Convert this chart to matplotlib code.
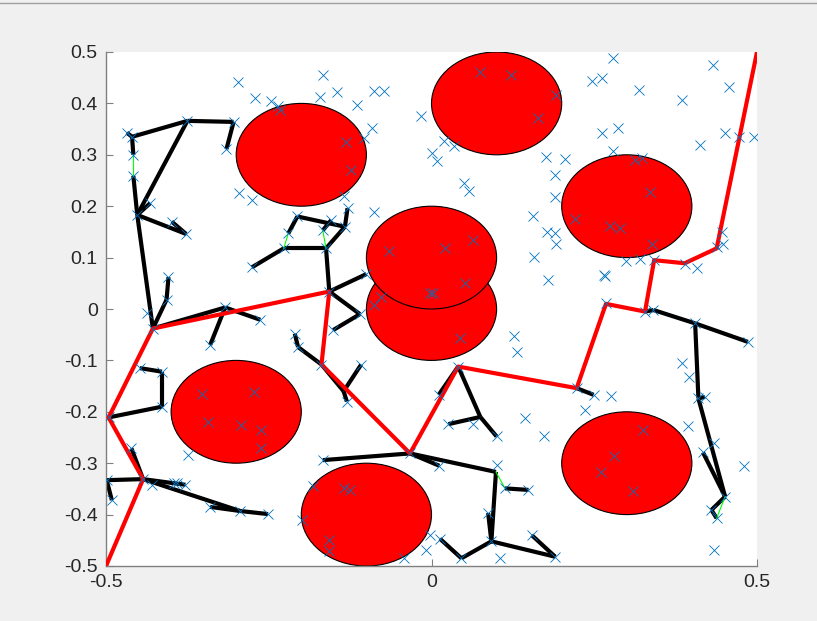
import matplotlib
matplotlib.use("Agg")
import matplotlib.pyplot as plt
from matplotlib.patches import Circle
from matplotlib.lines import Line2D

plt.rcParams['font.family'] = ['Liberation Sans', 'DejaVu Sans']

# ---------------- data ----------------
# circular obstacles (centre x, centre y), common radius
obs_x = [-0.2, 0.1, 0.3, 0.0, 0.0, -0.3, -0.1, 0.3]
obs_y = [0.3, 0.4, 0.2, 0.0, 0.1, -0.2, -0.4, -0.3]
obs_r = 0.1

# sampled points (blue crosses)
pts_x = [-0.297, -0.271, -0.247, -0.236, -0.233, -0.166, -0.171, -0.468, -0.460, -0.375,
         -0.304, -0.315, -0.458, -0.458, -0.295, -0.275, -0.432, -0.452, -0.399, -0.377,
         -0.206, -0.220, -0.227, -0.167, -0.162, -0.154, -0.276, -0.404, -0.407, -0.437,
         -0.317, -0.428, -0.145, -0.089, -0.073, -0.114, -0.091, -0.103, -0.131, -0.124,
         -0.135, -0.129, -0.089, -0.133, -0.016, 0.019, 0.035, 0.001, 0.008, 0.050,
         0.057, 0.075, 0.122, 0.164, 0.176, 0.156, 0.177, 0.158, 0.179, -0.065,
         0.021, 0.063, 0.051, -0.002, 0.003, -0.078, -0.089, -0.100, -0.157, 0.279,
         0.246, 0.262, 0.318, 0.433, 0.457, 0.385, 0.191, 0.262, 0.287, 0.412,
         0.451, 0.473, 0.495, 0.279, 0.312, 0.324, 0.205, 0.190, 0.190, 0.336,
         0.220, 0.274, 0.289, 0.189, 0.191, 0.338, 0.446, 0.448, 0.438, 0.299,
         0.320, 0.342, 0.389, 0.408, 0.265, 0.266, 0.268, 0.341, 0.328, -0.110,
         -0.151, -0.169, -0.210, -0.205, -0.108, -0.130, 0.044, 0.126, 0.131, 0.041,
         0.011, 0.026, 0.064, 0.100, 0.143, 0.173, -0.033, -0.167, 0.012, 0.100,
         0.113, 0.149, 0.087, 0.092, 0.046, 0.013, 0.190, 0.154, -0.003, -0.008,
         0.105, -0.042, -0.157, -0.157, -0.135, -0.125, -0.182, -0.199, -0.263, -0.340,
         -0.448, -0.414, -0.414, -0.496, -0.461, -0.443, -0.499, -0.491, -0.430, -0.396,
         -0.391, -0.378, -0.340, -0.294, -0.251, -0.374, -0.352, -0.273, -0.344, -0.292,
         -0.262, -0.262, 0.223, 0.249, 0.405, 0.486, 0.410, 0.420, 0.451, 0.417,
         0.430, 0.438, 0.385, 0.396, 0.394, 0.434, 0.480, 0.434, 0.276, 0.236,
         0.325, 0.280, 0.260, 0.310]
pts_y = [0.442, 0.410, 0.405, 0.395, 0.388, 0.455, 0.413, 0.343, 0.335, 0.366,
         0.364, 0.311, 0.300, 0.259, 0.225, 0.213, 0.206, 0.183, 0.170, 0.146,
         0.180, 0.147, 0.118, 0.153, 0.118, 0.173, 0.081, 0.062, 0.018, -0.007,
         0.003, -0.038, 0.423, 0.425, 0.425, 0.396, 0.353, 0.332, 0.324, 0.270,
         0.220, 0.196, 0.189, 0.160, 0.375, 0.327, 0.317, 0.303, 0.287, 0.245,
         0.230, 0.461, 0.455, 0.371, 0.295, 0.181, 0.150, 0.101, 0.056, 0.113,
         0.118, 0.134, 0.050, 0.031, 0.031, 0.023, 0.008, 0.068, 0.034, 0.488,
         0.444, 0.449, 0.427, 0.475, 0.431, 0.407, 0.416, 0.342, 0.353, 0.320,
         0.343, 0.334, 0.334, 0.307, 0.289, 0.293, 0.291, 0.261, 0.217, 0.227,
         0.175, 0.161, 0.157, 0.147, 0.126, 0.126, 0.150, 0.126, 0.121, 0.094,
         0.097, 0.095, 0.088, 0.079, 0.066, 0.064, 0.011, -0.002, -0.005, -0.010,
         -0.041, -0.108, -0.048, -0.074, -0.108, -0.180, -0.057, -0.053, -0.084, -0.112,
         -0.167, -0.224, -0.224, -0.248, -0.213, -0.248, -0.281, -0.294, -0.305, -0.304,
         -0.349, -0.352, -0.397, -0.452, -0.485, -0.447, -0.482, -0.440, -0.440, -0.468,
         -0.485, -0.485, -0.449, -0.470, -0.349, -0.352, -0.344, -0.411, -0.021, -0.070,
         -0.115, -0.122, -0.190, -0.211, -0.271, -0.331, -0.333, -0.372, -0.342, -0.338,
         -0.338, -0.342, -0.385, -0.393, -0.399, -0.284, -0.166, -0.161, -0.220, -0.226,
         -0.235, -0.270, -0.154, -0.167, -0.028, -0.064, -0.174, -0.171, -0.365, -0.279,
         -0.391, -0.407, -0.106, -0.132, -0.227, -0.260, -0.305, -0.469, -0.169, -0.196,
         -0.235, -0.286, -0.318, -0.354]

# tree edges (x1, y1, x2, y2)
tree_edges = [
    (-0.468, 0.343, -0.460, 0.335), (-0.460, 0.335, -0.375, 0.366), (-0.460, 0.335, -0.458, 0.300),
    (-0.375, 0.366, -0.304, 0.364), (-0.304, 0.364, -0.315, 0.311), (-0.375, 0.366, -0.452, 0.183),
    (-0.458, 0.259, -0.452, 0.183), (-0.452, 0.183, -0.432, 0.206), (-0.452, 0.183, -0.377, 0.146),
    (-0.399, 0.170, -0.377, 0.146), (-0.452, 0.183, -0.428, -0.038), (-0.404, 0.062, -0.407, 0.018),
    (-0.407, 0.018, -0.428, -0.038),
    (-0.206, 0.180, -0.220, 0.147), (-0.206, 0.180, -0.133, 0.160), (-0.133, 0.160, -0.129, 0.196),
    (-0.154, 0.173, -0.167, 0.153), (-0.133, 0.160, -0.162, 0.118), (-0.227, 0.118, -0.162, 0.118),
    (-0.227, 0.118, -0.276, 0.081), (-0.162, 0.118, -0.157, 0.034), (-0.157, 0.034, -0.100, 0.068),
    (-0.157, 0.034, -0.110, -0.010), (-0.110, -0.010, -0.151, -0.041),
    (-0.428, -0.038, -0.317, 0.003), (-0.317, 0.003, -0.263, -0.021), (-0.317, 0.003, -0.340, -0.070),
    (-0.448, -0.115, -0.414, -0.122), (-0.414, -0.122, -0.414, -0.190), (-0.414, -0.190, -0.496, -0.211),
    (-0.461, -0.271, -0.443, -0.331), (-0.443, -0.331, -0.499, -0.333), (-0.499, -0.333, -0.491, -0.372),
    (-0.443, -0.331, -0.378, -0.342), (-0.443, -0.331, -0.294, -0.393), (-0.340, -0.385, -0.294, -0.393),
    (-0.294, -0.393, -0.251, -0.399),
    (-0.210, -0.048, -0.205, -0.074), (-0.205, -0.074, -0.169, -0.108), (-0.169, -0.108, -0.135, -0.160),
    (-0.135, -0.160, -0.130, -0.180), (-0.108, -0.108, -0.135, -0.160),
    (0.041, -0.112, 0.011, -0.167), (0.041, -0.112, 0.075, -0.210), (0.075, -0.210, 0.026, -0.224),
    (0.075, -0.210, 0.100, -0.248),
    (-0.033, -0.281, -0.167, -0.294), (-0.033, -0.281, 0.012, -0.305), (-0.033, -0.281, 0.099, -0.317),
    (0.113, -0.349, 0.149, -0.352), (0.099, -0.317, 0.092, -0.452), (0.087, -0.397, 0.092, -0.452),
    (0.092, -0.452, 0.046, -0.485), (0.046, -0.485, 0.013, -0.447), (0.092, -0.452, 0.190, -0.482),
    (0.190, -0.482, 0.154, -0.440),
    (0.328, -0.005, 0.341, -0.002), (0.341, -0.002, 0.405, -0.028), (0.405, -0.028, 0.486, -0.064),
    (0.405, -0.028, 0.410, -0.174), (0.410, -0.174, 0.420, -0.171), (0.410, -0.174, 0.451, -0.365),
    (0.417, -0.279, 0.451, -0.365), (0.451, -0.365, 0.430, -0.391), (0.430, -0.391, 0.438, -0.407),
    (0.223, -0.154, 0.249, -0.167),
]

# rewired edges (thin green)
green_edges = [
    (-0.458, 0.300, -0.458, 0.259), (-0.220, 0.147, -0.227, 0.118), (-0.167, 0.153, -0.162, 0.118),
    (0.099, -0.317, 0.113, -0.349), (0.438, -0.407, 0.451, -0.365),
]

# final path (red)
path_x = [-0.5, -0.443, -0.496, -0.428, -0.157, -0.169, -0.033, 0.041, 0.223, 0.268, 0.328, 0.342, 0.389, 0.438, 0.5]
path_y = [-0.5, -0.331, -0.211, -0.038, 0.034, -0.108, -0.281, -0.112, -0.154, 0.010, -0.005, 0.095, 0.089, 0.118, 0.5]

xticks = [-0.5, 0, 0.5]
xtick_labels = ['-0.5', '0', '0.5']
yticks = [-0.5, -0.4, -0.3, -0.2, -0.1, 0, 0.1, 0.2, 0.3, 0.4, 0.5]
ytick_labels = ['-0.5', '-0.4', '-0.3', '-0.2', '-0.1', '0', '0.1', '0.2', '0.3', '0.4', '0.5']

# ---------------- figure ----------------
fig = plt.figure(figsize=(8.17, 6.21), dpi=100, facecolor='#f0f0f0')
ax = fig.add_axes([106 / 817, 55 / 621, 651 / 817, 514 / 621])
ax.set_facecolor('white')

for cx, cy in zip(obs_x, obs_y):
    ax.add_patch(Circle((cx, cy), obs_r, facecolor='#ff0000', edgecolor='black', lw=0.8, zorder=1))

for x1, y1, x2, y2 in tree_edges:
    ax.plot([x1, x2], [y1, y2], color='black', lw=3, solid_capstyle='butt', zorder=2)
for x1, y1, x2, y2 in green_edges:
    ax.plot([x1, x2], [y1, y2], color='#00ff00', lw=0.8, zorder=2)

ax.plot(path_x, path_y, color='#ff0000', lw=3, zorder=3)
ax.plot(pts_x, pts_y, linestyle='none', marker='x', color='#0072bd', ms=7, mew=0.6, zorder=4)

ax.set_xlim(-0.5, 0.5)
ax.set_ylim(-0.5, 0.5)
ax.set_xticks(xticks)
ax.set_xticklabels(xtick_labels)
ax.set_yticks(yticks)
ax.set_yticklabels(ytick_labels)
ax.spines['top'].set_visible(False)
ax.spines['right'].set_visible(False)
for s in ('left', 'bottom'):
    ax.spines[s].set_color('#808080')
    ax.spines[s].set_linewidth(1.0)
ax.tick_params(direction='in', length=5, width=0.8, color='#808080',
               labelsize=14, labelcolor='#262626')
ax.tick_params(axis='x', pad=6)
ax.tick_params(axis='y', pad=6)

fig.add_artist(Line2D([0, 1], [1 - 3 / 621, 1 - 3 / 621], color='#a0a0a0', lw=1))

fig.savefig('out.png', dpi=100, facecolor=fig.get_facecolor())
